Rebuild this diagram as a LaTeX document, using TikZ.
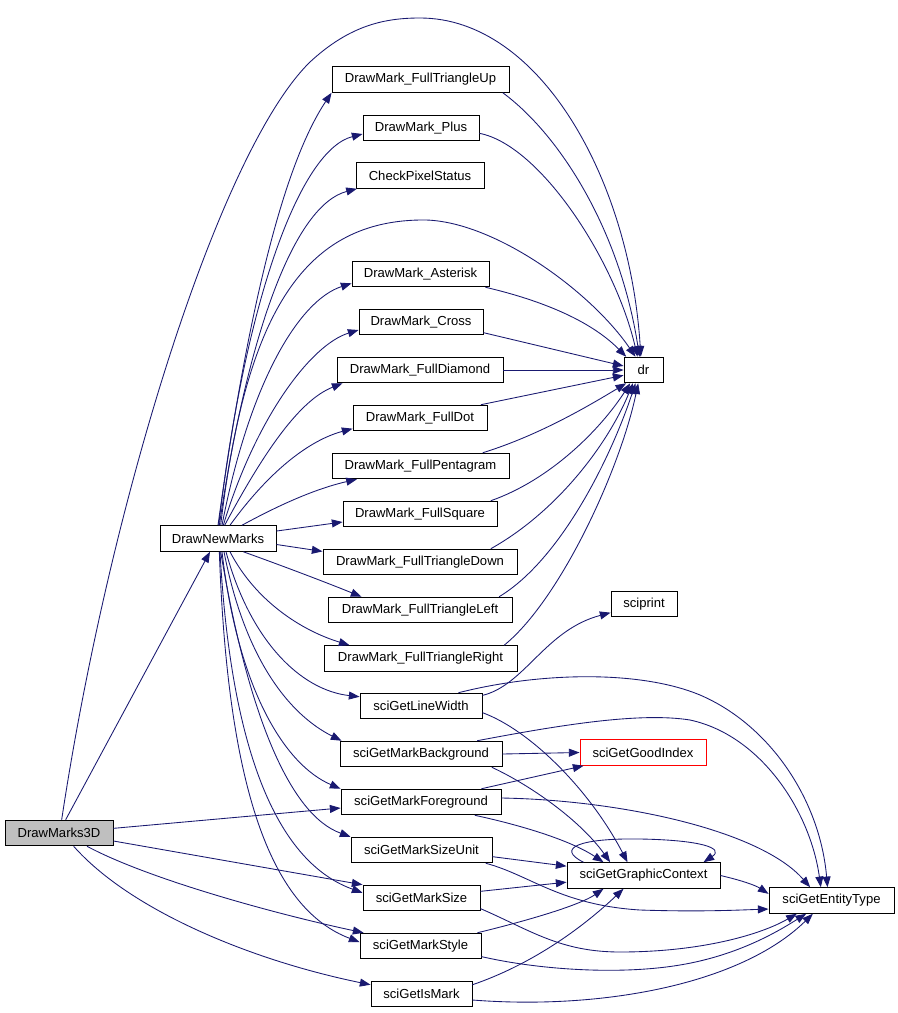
\documentclass[tikz,border=0pt]{standalone}
\usepackage{fontspec}
\setmainfont{Liberation Sans}
\usetikzlibrary{arrows.meta}
\definecolor{edgeblue}{HTML}{191970}
\definecolor{rootgray}{HTML}{BFBFBF}

\tikzset{
  func/.style={draw=black, line width=0.7pt, rectangle, inner sep=0pt,
               minimum width=#1*0.75pt, minimum height=19.2pt,
               font=\fontsize{9.8}{11}\selectfont},
  root/.style={fill=rootgray},
  missing/.style={draw=red},
  call/.style={->, draw=edgeblue, line width=0.65pt}
}

\begin{document}
\begin{tikzpicture}[x=0.75pt,y=-0.75pt,>={Triangle[length=8pt,width=6pt]}]
  \useasboundingbox (0,0) rectangle (898,1013);

  % callers
  \node[func=108,root] (M3D) at (59,833)    {DrawMarks3D};
  \node[func=116]      (DNM) at (218,538.5) {DrawNewMarks};

  % middle column
  \node[func=177] (TU)    at (420.5,79.5) {DrawMark\_FullTriangleUp};
  \node[func=116] (Plus)  at (421,128)    {DrawMark\_Plus};
  \node[func=128] (CPS)   at (420,175.5)  {CheckPixelStatus};
  \node[func=137] (Ast)   at (420.5,274)  {DrawMark\_Asterisk};
  \node[func=124] (Cross) at (421,322)    {DrawMark\_Cross};
  \node[func=166] (Diam)  at (420,370)    {DrawMark\_FullDiamond};
  \node[func=134] (Dot)   at (420,418)    {DrawMark\_FullDot};
  \node[func=177] (Pent)  at (420.5,466)  {DrawMark\_FullPentagram};
  \node[func=154] (Sq)    at (420,514)    {DrawMark\_FullSquare};
  \node[func=194] (TD)    at (420,562)    {DrawMark\_FullTriangleDown};
  \node[func=184] (TL)    at (420,610)    {DrawMark\_FullTriangleLeft};
  \node[func=193] (TR)    at (420.5,658.5){DrawMark\_FullTriangleRight};
  \node[func=122] (LW)    at (421,706)    {sciGetLineWidth};
  \node[func=162] (MB)    at (421,754)    {sciGetMarkBackground};
  \node[func=160] (MF)    at (421,802)    {sciGetMarkForeground};
  \node[func=141] (MSU)   at (421.5,850)  {sciGetMarkSizeUnit};
  \node[func=117] (MS)    at (421.5,898)  {sciGetMarkSize};
  \node[func=121] (MSt)   at (420.5,946)  {sciGetMarkStyle};
  \node[func=101] (IM)    at (421.5,994)  {sciGetIsMark};

  % callees
  \node[func=39]          (dr)      at (643.5,370)  {dr};
  \node[func=66]          (sprint)  at (644,604)    {sciprint};
  \node[func=126,missing] (GoodIdx) at (643,752.5)  {sciGetGoodIndex};
  \node[func=153]         (GC)      at (643.5,875.5){sciGetGraphicContext};
  \node[func=125]         (ET)      at (831.5,900.5){sciGetEntityType};

  % DrawMarks3D
  \draw[call] ([xshift=2pt]M3D.north) .. controls (110,500) and (220,150) .. (310,62)
              .. controls (350,25) and (385,18) .. (420,18)
              .. controls (540,18) and (630,180) .. ([xshift=-2pt]dr.north);
  \draw[call] ([xshift=5pt]M3D.north) -- ([xshift=-6pt]DNM.south);
  \draw[call] ([yshift=3.5pt]M3D.east) -- ([yshift=-4.5pt]MF.west);
  \draw[call] ([yshift=-6pt]M3D.east) -- (MS.north west);
  \draw[call] ([xshift=21pt]M3D.south) .. controls (150,880) and (280,915) .. ([xshift=3pt]MSt.north west);
  \draw[call] ([xshift=11pt]M3D.south) .. controls (130,910) and (250,960) .. ([yshift=-3pt]IM.north west);

  % DrawNewMarks, upward
  \draw[call] (DNM.north) .. controls (245,330) and (280,170) .. (TU.south west);
  \draw[call] ([xshift=0.5pt]DNM.north) .. controls (245,300) and (300,150) .. ([yshift=-4.5pt]Plus.west);
  \draw[call] ([xshift=1pt]DNM.north) .. controls (248,330) and (295,205) .. ([xshift=1pt]CPS.south west);
  \draw[call] ([xshift=2pt]DNM.north) .. controls (245,320) and (300,222) .. (420,220)
              .. controls (490,218) and (590,290) .. ([xshift=-6pt]dr.north);
  \draw[call] ([xshift=3pt]DNM.north) .. controls (250,380) and (300,300) .. ([yshift=-7pt]Ast.west);
  \draw[call] ([xshift=4pt]DNM.north) .. controls (255,420) and (310,345) .. ([yshift=-6pt]Cross.west);
  \draw[call] ([xshift=5pt]DNM.north) .. controls (265,450) and (300,400) .. ([xshift=4.5pt]Diam.south west);
  \draw[call] ([xshift=9pt]DNM.north) .. controls (270,470) and (310,440) .. ([yshift=-8pt]Dot.west);
  \draw[call] ([xshift=18pt]DNM.north) .. controls (270,510) and (310,490) .. ([xshift=19pt]Pent.south west);
  \draw[call] ([yshift=5.6pt]DNM.east) -- ([yshift=-6pt]Sq.west);
  \draw[call] ([yshift=-4.5pt]DNM.east) -- ([yshift=-2pt]TD.north west);

  % DrawNewMarks, downward
  \draw[call] ([xshift=19pt]DNM.south) .. controls (280,565) and (320,580) .. ([xshift=25.5pt]TL.north west);
  \draw[call] ([xshift=9pt]DNM.south) .. controls (255,600) and (300,630) .. ([xshift=19.5pt]TR.north west);
  \draw[call] ([xshift=6pt]DNM.south) .. controls (250,640) and (300,690) .. ([yshift=-3pt]LW.north west);
  \draw[call] ([xshift=4.5pt]DNM.south) .. controls (245,660) and (290,715) .. ([xshift=1.5pt]MB.north west);
  \draw[call] ([xshift=3pt]DNM.south) .. controls (238,690) and (285,765) .. (MF.north west);
  \draw[call] ([xshift=2pt]DNM.south) .. controls (248,715) and (290,815) .. (MSU.north west);
  \draw[call] ([xshift=1.5pt]DNM.south) .. controls (232,770) and (285,865) .. ([yshift=-6pt]MS.north west);
  \draw[call] ([xshift=1pt]DNM.south) .. controls (228,800) and (275,910) .. ([yshift=-7pt]MSt.north west);

  % into dr
  \draw[call] ([xshift=-5pt]TU.south east) .. controls (560,135) and (620,230) .. ([xshift=-3pt]dr.north);
  \draw[call] ([yshift=-4pt]Plus.east) .. controls (540,145) and (615,260) .. ([xshift=-4.5pt]dr.north);
  \draw[call] ([xshift=-3pt]Ast.south east) .. controls (540,300) and (590,320) .. ([xshift=2pt]dr.north west);
  \draw[call] ([yshift=-8pt]Cross.east) -- ([yshift=3pt]dr.west);
  \draw[call] (Diam.east) -- (dr.west);
  \draw[call] ([xshift=-5pt]Dot.north east) -- ([yshift=-4pt]dr.west);
  \draw[call] ([xshift=-20pt]Pent.north east) .. controls (540,435) and (590,405) .. ([xshift=2pt]dr.south west);
  \draw[call] ([xshift=-5pt]Sq.north east) .. controls (550,480) and (600,430) .. ([xshift=5pt]dr.south west);
  \draw[call] ([xshift=-20pt]TD.north east) .. controls (560,510) and (610,440) .. ([xshift=7pt]dr.south west);
  \draw[call] ([xshift=-10pt]TL.north east) .. controls (560,560) and (610,460) .. ([xshift=9pt]dr.south west);
  \draw[call] ([xshift=-10pt]TR.north east) .. controls (560,600) and (620,470) .. ([xshift=11pt]dr.south west);

  % sciGetLineWidth
  \draw[call] ([yshift=-2pt]LW.north east) .. controls (525,685) and (545,630) .. ([yshift=-6.5pt]sprint.west);
  \draw[call] ([xshift=-18pt]LW.north east) .. controls (540,672) and (640,670) .. (700,695)
              .. controls (770,725) and (820,800) .. ([xshift=-3pt]ET.north);
  \draw[call] ([yshift=-5pt]LW.east) .. controls (530,730) and (590,790) .. ([xshift=-12pt]GC.north);

  % sciGetMarkBackground
  \draw[call] (MB.east) -- (GoodIdx.west);
  \draw[call] ([xshift=-19pt]MB.north east) .. controls (560,725) and (640,712) .. (690,720)
              .. controls (760,735) and (810,810) .. ([xshift=-8pt]ET.north);
  \draw[call] ([xshift=-8pt]MB.south east) .. controls (530,785) and (580,820) .. ([xshift=-25pt]GC.north);

  % sciGetMarkForeground
  \draw[call] ([xshift=-15pt]MF.north east) -- ([xshift=3pt]GoodIdx.south west);
  \draw[call] ([yshift=3pt]MF.east) .. controls (620,800) and (760,830) .. ([xshift=-16pt]ET.north);
  \draw[call] ([xshift=-20pt]MF.south east) .. controls (520,825) and (570,840) .. ([xshift=-30pt]GC.north);

  % sciGetMarkSizeUnit
  \draw[call] ([yshift=-5pt]MSU.east) -- ([yshift=7pt]GC.west);
  \draw[call] ([xshift=-5pt]MSU.south east) .. controls (530,875) and (560,905) .. (640,910)
              .. controls (700,912) and (740,910) .. ([yshift=-6.4pt]ET.west);

  % sciGetMarkSize
  \draw[call] ([yshift=5pt]MS.east) -- ([yshift=-5pt]GC.west);
  \draw[call] ([yshift=2pt]MS.south east) .. controls (530,930) and (560,952) .. (620,952)
              .. controls (700,952) and (760,935) .. ([xshift=-26pt]ET.south);

  % sciGetMarkStyle
  \draw[call] ([xshift=-3pt]MSt.north east) .. controls (530,920) and (580,905) .. ([xshift=-30pt]GC.south);
  \draw[call] ([yshift=2pt]MSt.south east) .. controls (540,970) and (620,975) .. (680,965)
              .. controls (740,955) and (780,930) .. ([xshift=-19pt]ET.south);

  % sciGetIsMark
  \draw[call] ([yshift=-3pt]IM.north east) .. controls (530,965) and (580,930) .. ([xshift=-15pt]GC.south);
  \draw[call] ([yshift=-4.5pt]IM.east) .. controls (600,1010) and (740,985) .. ([xshift=-14pt]ET.south);

  % sciGetGraphicContext
  \draw[call] ([xshift=-45pt]GC.north) .. controls (555,848) and (580,838) .. (640,839)
              .. controls (700,840) and (725,848) .. ([xshift=45pt]GC.north);
  \draw[call] (GC.east) .. controls (740,880) and (755,885) .. ([yshift=5pt]ET.west);
\end{tikzpicture}
\end{document}
